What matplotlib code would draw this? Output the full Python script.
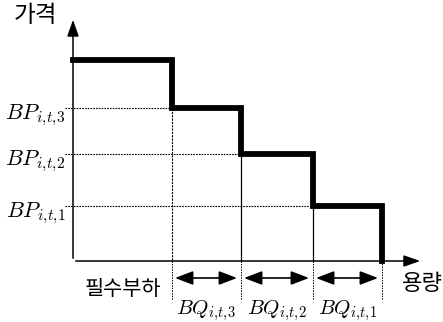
import matplotlib.pyplot as plt

plt.rcParams['mathtext.fontset'] = 'cm'
KFONT = ['Noto Sans CJK KR', 'DejaVu Sans']

# block widths (must-run load, then BQ3, BQ2, BQ1) and price levels
must_run = 99
bq_widths = [69, 72, 69]
bq_names = [r'$BQ_{i,\!t,\!3}$', r'$BQ_{i,\!t,\!2}$', r'$BQ_{i,\!t,\!1}$']
top_price = 201
bp_levels = [153, 107, 55]
bp_names = [r'$BP_{i,\!t,\!3}$', r'$BP_{i,\!t,\!2}$', r'$BP_{i,\!t,\!1}$']

fig = plt.figure(figsize=(4.43, 3.22), dpi=100)
ax = fig.add_axes([0, 0, 1, 1])
ax.set_xlim(-73, 370)
ax.set_ylim(-61, 261)
ax.axis('off')

# block edges
edges = [0, must_run]
for w in bq_widths:
    edges.append(edges[-1] + w)

# stepped offer curve
xs = [0, edges[1]]
ys = [top_price, top_price]
for i, p in enumerate(bp_levels):
    xs += [edges[i + 1], edges[i + 2]]
    ys += [p, p]
xs.append(edges[-1])
ys.append(0)
ax.plot(xs, ys, color='black', lw=4.2, solid_joinstyle='miter', zorder=5)

# axes arrows
ax.annotate('', xy=(0, 244), xytext=(0, 0),
            arrowprops=dict(arrowstyle='-|>,head_length=1.0,head_width=0.35', color='black', lw=1.1))
ax.annotate('', xy=(350, 0), xytext=(0, 0),
            arrowprops=dict(arrowstyle='-|>,head_length=1.0,head_width=0.35', color='black', lw=1.1))

# price guide lines and labels
for i, (p, name) in enumerate(zip(bp_levels, bp_names)):
    ax.plot([-8, edges[i + 1]], [p, p], color='black', lw=0.8, ls=(0, (1.5, 1)))
    ax.text(-7, p - 3, name, fontsize=16, ha='right', va='center_baseline')

# vertical lines inside the chart
ax.plot([edges[1], edges[1]], [bp_levels[0], 0], color='black', lw=0.8, ls=(0, (2, 1)))
for i in (1, 2):
    ax.plot([edges[i + 1], edges[i + 1]], [bp_levels[i], 0], color='black', lw=0.9)

# dotted drop lines below the axis
for e in edges[1:]:
    ax.plot([e, e], [0, -39], color='black', lw=0.7, ls=(0, (1.5, 1.2)))

# double arrows and BQ labels
for i, name in enumerate(bq_names):
    a, b = edges[i + 1], edges[i + 2]
    ax.annotate('', xy=(b - 4, -17), xytext=(a + 3, -17),
                arrowprops=dict(arrowstyle='<|-|>,head_length=1.1,head_width=0.42',
                                color='black', lw=1.2, shrinkA=0, shrinkB=0))
    ax.text((a + b) / 2, -50, name, fontsize=15, ha='center', va='center')

# Korean labels
ax.text(-38, 246, '가격', fontsize=17, family=KFONT, ha='center', va='center')
ax.text(50, -28, '필수부하', fontsize=15, family=KFONT, ha='center', va='center')
ax.text(349, -22, '용량', fontsize=16, family=KFONT, ha='center', va='center')

fig.savefig('out.png', dpi=100)
